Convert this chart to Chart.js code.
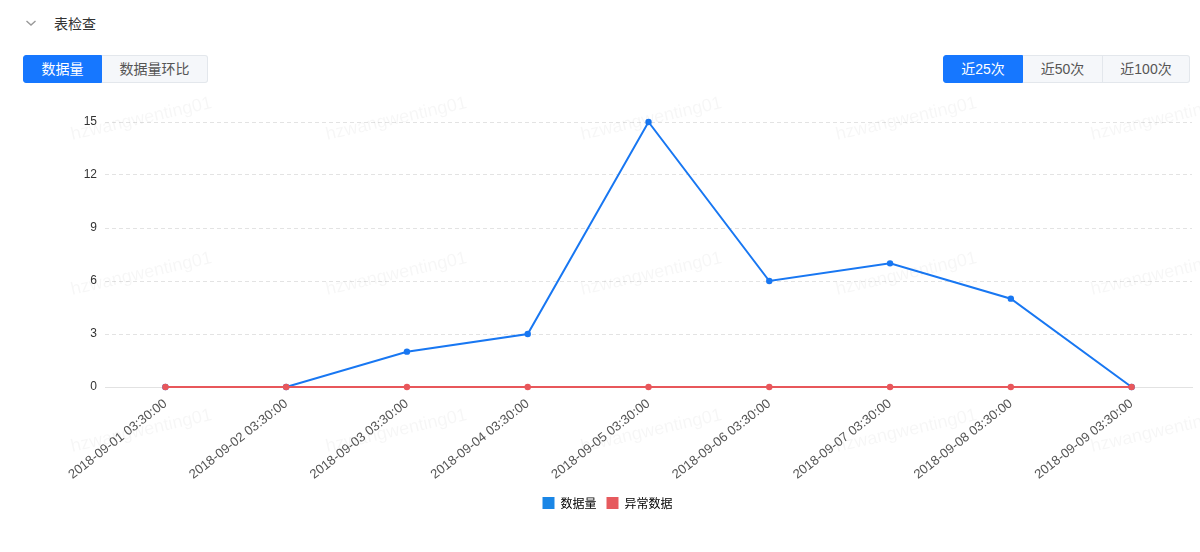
<!DOCTYPE html>
<html>
<head>
<meta charset="utf-8">
<script src="https://cdn.jsdelivr.net/npm/chart.js@4/dist/chart.umd.min.js"></script>
<style>
  html, body { margin:0; padding:0; background:#fff; width:1200px; height:552px; overflow:hidden;
    font-family: 'Helvetica Neue', Helvetica, 'Liberation Sans', Arial, 'Noto Sans CJK SC', sans-serif; }
  #wrap { position:relative; width:1200px; height:552px; }
  .chev { position:absolute; left:25px; top:18px; }
  .title { position:absolute; left:54px; top:13px; font-size:14px; line-height:20px; color:#333; font-family:'Noto Sans CJK SC', sans-serif; }
  .group { position:absolute; top:55px; height:28px; display:flex; }
  .btn { box-sizing:border-box; height:28px; line-height:26px; font-size:14px; text-align:center;
    font-family:'Helvetica Neue','Liberation Sans','Noto Sans CJK SC',sans-serif;
    background:#f5f7fa; color:#555; border:1px solid #e3e7ec; border-left:none; }
  .btn:first-child { border-left:1px solid #e3e7ec; border-radius:3px 0 0 3px; }
  .btn:last-child { border-radius:0 3px 3px 0; }
  .btn.active { background:#1677ff; color:#fff; border-color:#1677ff; }
  #c { position:absolute; left:0; top:90px; }
  .wm { position:absolute; font-size:18px; line-height:18px; color:rgba(0,0,0,0.035); white-space:nowrap;
    transform-origin:0 100%; transform:rotate(-13deg); pointer-events:none; font-family:'Liberation Sans', Arial, sans-serif; }
</style>
</head>
<body>
<div id="wrap">
  <svg class="chev" width="12" height="10" viewBox="0 0 12 10"><polyline points="1.5,3 6,7 10.5,3" fill="none" stroke="#999" stroke-width="1.4"/></svg>
  <div class="title">表检查</div>
  <div class="group" style="left:23px;">
    <div class="btn active" style="width:79px;">数据量</div>
    <div class="btn" style="width:106px;">数据量环比</div>
  </div>
  <div class="group" style="left:943px;">
    <div class="btn active" style="width:80px;">近25次</div>
    <div class="btn" style="width:80px;">近50次</div>
    <div class="btn" style="width:87px;">近100次</div>
  </div>
  <canvas id="c" width="1200" height="440"></canvas>
  <div id="wms"></div>
</div>
<script>
const categories = [
  '2018-09-01 03:30:00','2018-09-02 03:30:00','2018-09-03 03:30:00',
  '2018-09-04 03:30:00','2018-09-05 03:30:00','2018-09-06 03:30:00',
  '2018-09-07 03:30:00','2018-09-08 03:30:00','2018-09-09 03:30:00'
];
const seriesNames = ['数据量', '异常数据'];
const dataVolume = [0, 0, 2, 3, 15, 6, 7, 5, 0];
const abnormalData = [0, 0, 0, 0, 0, 0, 0, 0, 0];
const yTicks = [0, 3, 6, 9, 12, 15];
const watermarkText = 'hzwangwenting01';

// watermark tiles
(function(){
  const cont = document.getElementById('wms');
  const xs = [73, 328, 583, 838, 1093];
  const ys = [140, 295, 452];
  ys.forEach(y => xs.forEach(x => {
    const d = document.createElement('div');
    d.className = 'wm';
    d.textContent = watermarkText;
    d.style.left = x + 'px';
    d.style.top = (y - 15) + 'px';
    cont.appendChild(d);
  }));
})();

const BLUE = '#1877f2';
const RED = '#e8575b';
Chart.defaults.font.family = "'Helvetica Neue', Helvetica, 'Liberation Sans', Arial, 'Noto Sans CJK SC', sans-serif";
Chart.defaults.font.size = 12;

new Chart(document.getElementById('c'), {
  type: 'line',
  data: {
    labels: categories,
    datasets: [
      { label: seriesNames[0], data: dataVolume, borderColor: BLUE, backgroundColor: '#1a86e6',
        pointBackgroundColor: BLUE, pointBorderColor: BLUE, pointRadius: 3.2, pointBorderWidth: 0,
        borderWidth: 2, tension: 0, order: 1, clip: false },
      { label: seriesNames[1], data: abnormalData, borderColor: RED, backgroundColor: '#e65a5e',
        pointBackgroundColor: RED, pointBorderColor: RED, pointRadius: 3.2, pointBorderWidth: 0,
        borderWidth: 2, tension: 0, order: 0, clip: false }
    ]
  },
  options: {
    responsive: false,
    animation: false,
    layout: { padding: { top: 32, right: 8, bottom: 11, left: 23 } },
    plugins: {
      tooltip: { enabled: false },
      legend: {
        position: 'bottom',
        labels: {
          boxWidth: 12, boxHeight: 12, padding: 10, color: '#333',
          font: { size: 12, family: "'Noto Sans CJK SC', sans-serif" },
          sort: (a, b) => a.datasetIndex - b.datasetIndex,
          generateLabels: (chart) => chart.data.datasets.map((ds, i) => ({
            text: ds.label, fillStyle: ds.backgroundColor, strokeStyle: ds.backgroundColor,
            lineWidth: 0, datasetIndex: i, hidden: false
          }))
        }
      }
    },
    scales: {
      x: {
        offset: true,
        grid: { display: false },
        border: { display: true, color: '#e2e2e2', width: 1 },
        ticks: { color: '#555', minRotation: 38, maxRotation: 38, autoSkip: false, padding: 1,
          font: { size: 13 } },
        afterFit: (s) => { s.height = 100; }
      },
      y: {
        min: 0, max: 15,
        afterBuildTicks: (s) => { s.ticks = yTicks.map(v => ({ value: v })); },
        grid: { color: '#e3e3e3', lineWidth: 1, drawTicks: false },
        border: { display: false, dash: (ctx) => (ctx.tick && ctx.tick.value === 0) ? [] : [4, 3] },
        ticks: { color: '#333', padding: 8, font: { size: 12 } },
        afterFit: (s) => { s.width = 82; }
      }
    }
  }
});
</script>
</body>
</html>
